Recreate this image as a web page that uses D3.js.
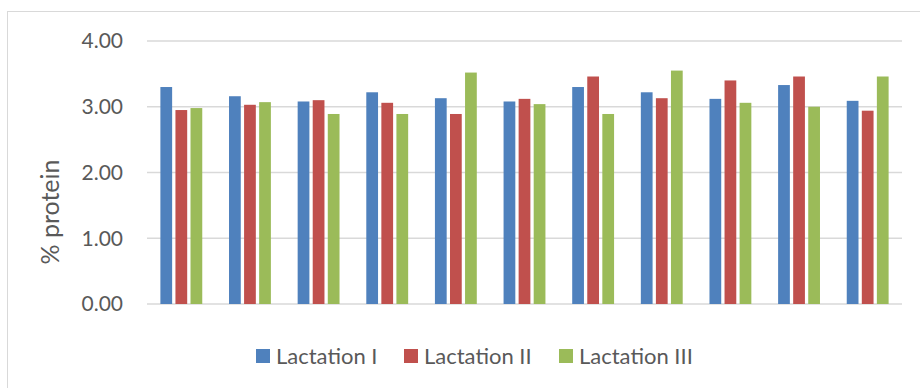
<!DOCTYPE html>
<html>
<head>
<meta charset="utf-8">
<script src="https://cdn.jsdelivr.net/npm/d3@7"></script>
<style>
  body { margin: 0; background: #fff; }
  text { font-family: Lato, "Open Sans", sans-serif; fill: #595959; }
</style>
</head>
<body>
<script>
let width = 920,
    height = 388;

// data
let groups = ["1", "2", "3", "4", "5", "6", "7", "8", "9", "10", "11"];
let series = ["Lactation I", "Lactation II", "Lactation III"];
let lact1 = [3.30, 3.16, 3.08, 3.22, 3.13, 3.08, 3.30, 3.22, 3.12, 3.33, 3.09];
let lact2 = [2.95, 3.03, 3.10, 3.06, 2.89, 3.12, 3.46, 3.13, 3.40, 3.46, 2.94];
let lact3 = [2.98, 3.07, 2.89, 2.89, 3.52, 3.04, 2.89, 3.55, 3.06, 3.00, 3.46];
let yTicks = [0, 1, 2, 3, 4];
let colors = ["#4f81bd", "#c0504d", "#9bbb59"];

let values = [lact1, lact2, lact3];

let svg = d3.select("body")
    .append("svg")
    .attr("width", width)
    .attr("height", height);

// chart frame (right and bottom edges fall outside the crop)
svg.append("rect")
    .attr("x", 7.5)
    .attr("y", 11.5)
    .attr("width", 940)
    .attr("height", 400)
    .attr("fill", "none")
    .attr("stroke", "#d9d9d9");

let plot = { left: 147, right: 902, top: 41, bottom: 304 };

let x0 = d3.scaleBand()
    .domain(groups)
    .range([plot.left, plot.right])
    .paddingInner(0.39)
    .paddingOuter(0.195);

let x1 = d3.scaleBand()
    .domain(series)
    .range([0, x0.bandwidth()])
    .paddingInner(0.22);

let y = d3.scaleLinear()
    .domain([0, 4])
    .range([plot.bottom, plot.top]);

// gridlines
svg.append("g")
    .selectAll("line")
    .data(yTicks)
    .enter()
    .append("line")
    .attr("x1", plot.left)
    .attr("x2", plot.right)
    .attr("y1", d => y(d))
    .attr("y2", d => y(d))
    .attr("stroke", "#d9d9d9")
    .attr("stroke-width", 1.5);

// y axis labels
svg.append("g")
    .selectAll("text")
    .data(yTicks)
    .enter()
    .append("text")
    .attr("x", 123)
    .attr("y", d => y(d))
    .attr("dy", "0.35em")
    .style("text-anchor", "end")
    .style("font-size", "21px")
    .text(d => d3.format(".2f")(d));

// bars
let rows = groups.map((g, i) => ({ group: g, vals: series.map((s, j) => ({ s: s, j: j, v: values[j][i] })) }));

svg.append("g")
    .selectAll("g")
    .data(rows)
    .enter()
    .append("g")
    .attr("transform", d => "translate(" + x0(d.group) + ",0)")
    .selectAll("rect")
    .data(d => d.vals)
    .enter()
    .append("rect")
    .attr("x", d => x1(d.s))
    .attr("y", d => y(d.v))
    .attr("width", x1.bandwidth())
    .attr("height", d => y(0) - y(d.v))
    .attr("fill", d => colors[d.j]);

// y title
svg.append("text")
    .attr("transform", "translate(59,212) rotate(-90)")
    .style("text-anchor", "middle")
    .style("font-size", "25px")
    .text("% protein");

// legend
let legendX = [256, 404, 559];
let legend = svg.append("g")
    .selectAll("g")
    .data(series)
    .enter()
    .append("g")
    .attr("transform", (d, i) => "translate(" + legendX[i] + ",349)");

legend.append("rect")
    .attr("width", 14)
    .attr("height", 14)
    .attr("fill", (d, i) => colors[i]);

legend.append("text")
    .attr("x", 20)
    .attr("y", 14.5)
    .style("font-size", "22px")
    .text(d => d);
</script>
</body>
</html>
